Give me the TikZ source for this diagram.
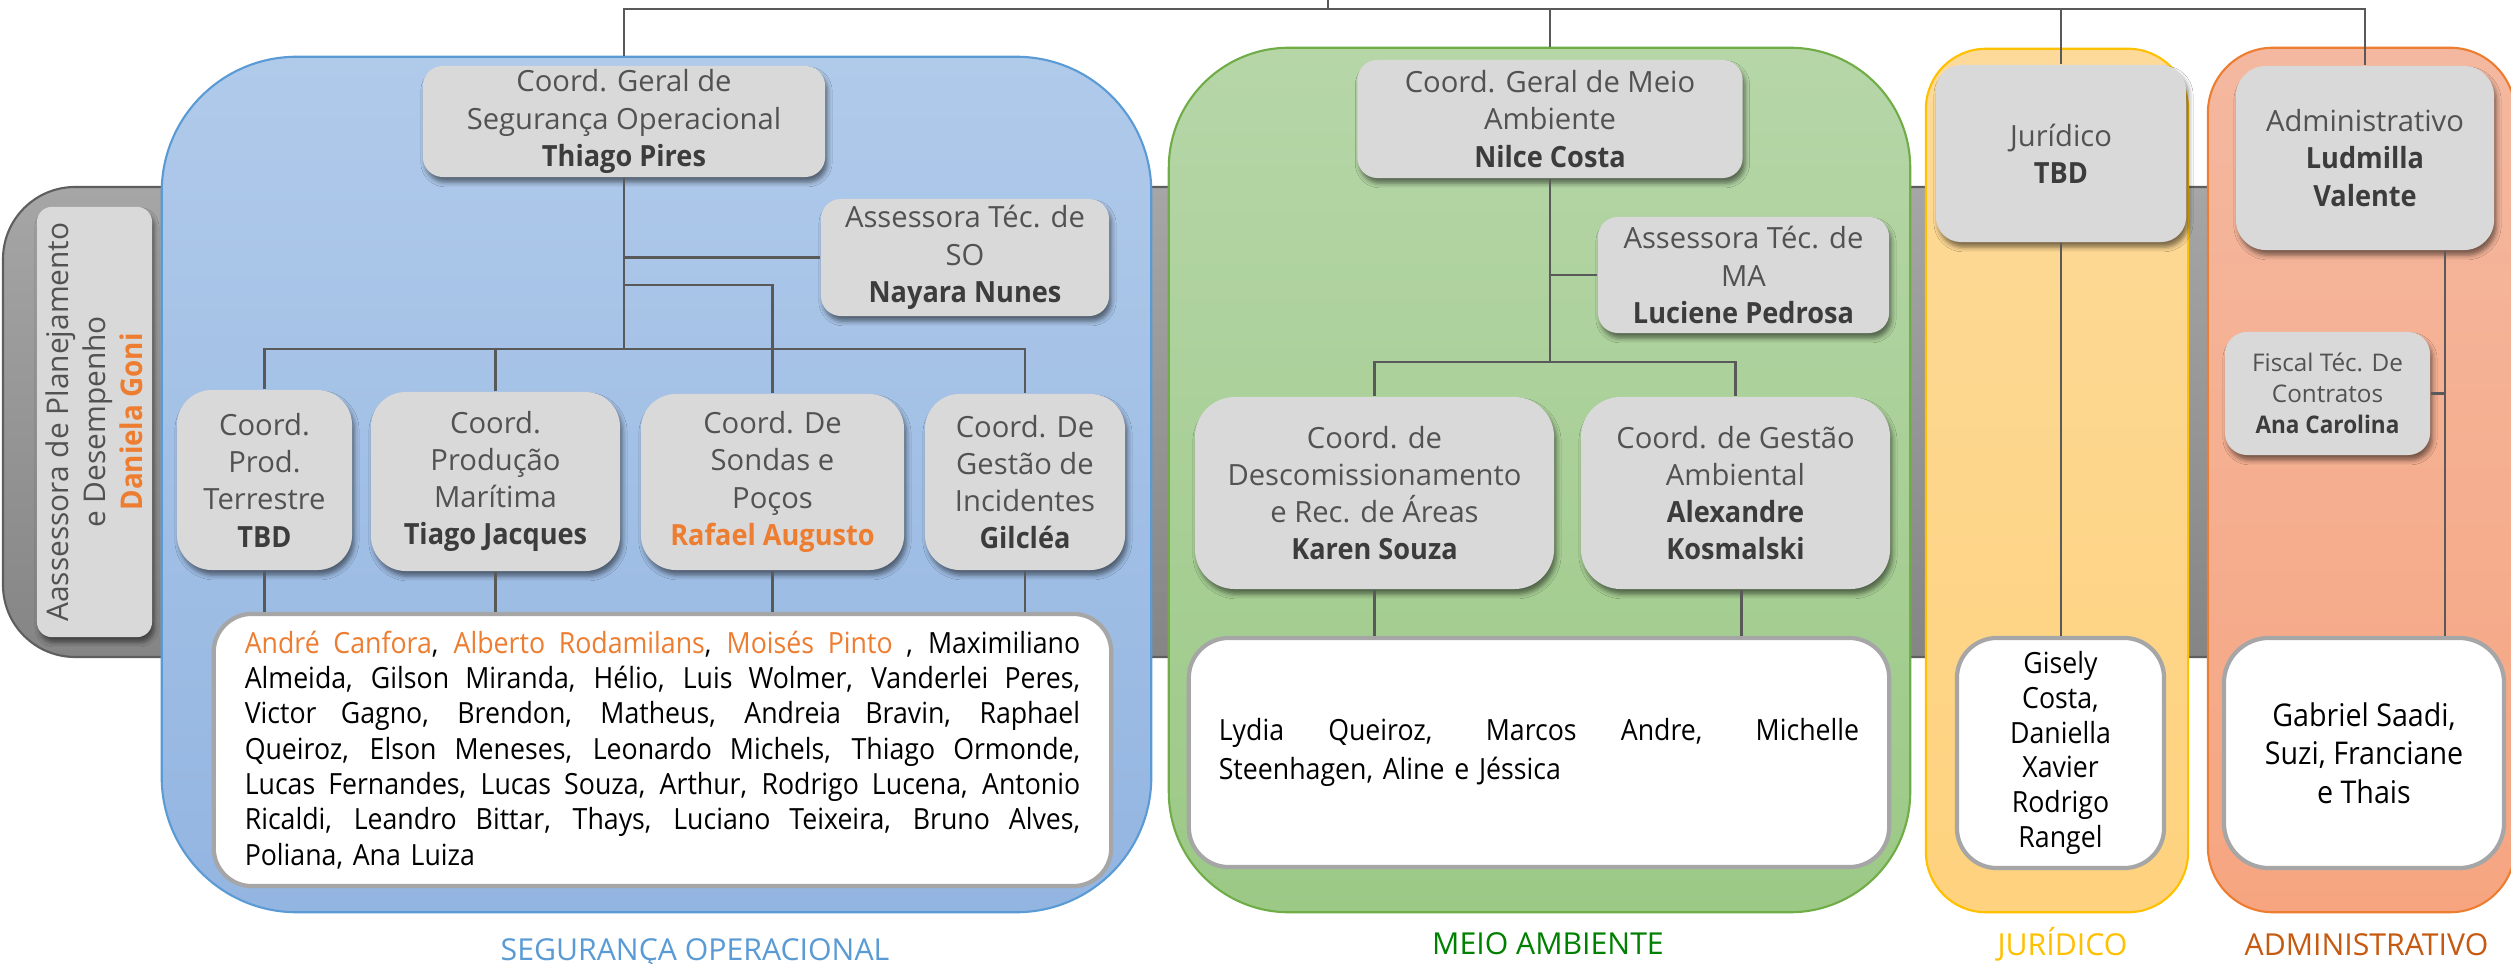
\documentclass[tikz,border=0pt]{standalone}
\usepackage{fontspec}
\setmainfont{Open Sans}[BoldFeatures={FakeStretch=0.93}]
\newfontfamily\listfont{Open Sans}[FakeStretch=0.915]
\usetikzlibrary{shadows.blur,calc}
\definecolor{graybox}{HTML}{D9D9D9}
\definecolor{titlecol}{HTML}{525252}
\definecolor{namecol}{HTML}{3C3C3C}
\definecolor{orgtxt}{HTML}{ED7D31}
\definecolor{conncol}{HTML}{595959}
\definecolor{bandtop}{HTML}{A6A6A6}
\definecolor{bandbot}{HTML}{858585}
\definecolor{bandline}{HTML}{5E5E5E}
\definecolor{sotop}{HTML}{B0CAEA}
\definecolor{sobot}{HTML}{93B5E1}
\definecolor{soline}{HTML}{5B9BD5}
\definecolor{matop}{HTML}{B6D6A8}
\definecolor{mabot}{HTML}{9CC986}
\definecolor{maline}{HTML}{70AD47}
\definecolor{jutop}{HTML}{FDDA99}
\definecolor{jubot}{HTML}{FED27E}
\definecolor{juline}{HTML}{FFC000}
\definecolor{adtop}{HTML}{F4B8A0}
\definecolor{adbot}{HTML}{F6A580}
\definecolor{adline}{HTML}{ED7D31}
\definecolor{solab}{HTML}{5B9BD5}
\definecolor{malab}{HTML}{008000}
\definecolor{julab}{HTML}{FFC000}
\definecolor{adlab}{HTML}{C55A11}
\definecolor{wborder}{HTML}{A6A6A6}
\newcommand\nmx[1]{{\bfseries\color{namecol}#1}}
\newcommand\orx[1]{{\color{orgtxt}#1}}
\newcommand\jline[1]{\makebox[\linewidth][s]{\spaceskip=0.26em plus 3em minus 0.05em\relax #1}}
\begin{document}
\begin{tikzpicture}[x=0.01cm,y=-0.01cm,
  conn/.style={draw=conncol, line width=0.6pt},
  gbox/.style={fill=graybox, align=center, inner sep=0pt, text=titlecol,
    font=\fontsize{8.3}{10.6}\selectfont,
    blur shadow={shadow xshift=0.7pt,shadow yshift=-1.5pt,shadow blur radius=1.3pt,shadow opacity=50}},
  wbox/.style={draw=wborder, line width=1.2pt, fill=white, inner sep=0pt, text=black},
  panel/.style={line width=0.6pt, inner sep=0pt},
  lab/.style={anchor=base, font=\fontsize{8.6}{10}\selectfont}
]
\useasboundingbox (0,0) rectangle (2511,964);
\fill[white] (0,0) rectangle (2511,964);
\begin{scope}
\clip (0,0) rectangle (2511,964);
% ---------- background band and panels ----------
\path[draw=bandline, line width=0.6pt, top color=bandtop, bottom color=bandbot, rounded corners=0.72cm]
  (2540,187) -- (3,187) -- (3,657) -- (2540,657) -- cycle;
\node[panel, draw=soline, top color=sotop, bottom color=sobot, rounded corners=1.35cm,
  minimum width=9.89cm, minimum height=8.55cm] (sopan) at (656.5,484.5) {};
\node[panel, draw=maline, top color=matop, bottom color=mabot, rounded corners=1.2cm,
  minimum width=7.41cm, minimum height=8.64cm] (mapan) at (1539.5,480) {};
\node[panel, draw=juline, top color=jutop, bottom color=jubot, rounded corners=0.6cm,
  minimum width=2.62cm, minimum height=8.63cm] (jupan) at (2057,480.5) {};
\node[panel, draw=adline, top color=adtop, bottom color=adbot, rounded corners=0.65cm,
  minimum width=3.07cm, minimum height=8.64cm] (adpan) at (2361.5,480) {};
\end{scope}

% ---------- left box ----------
\node[gbox, rounded corners=0.15cm, minimum width=1.15cm, minimum height=4.30cm]
  (plan) at (94.5,422) {};
\node[rotate=90, align=center, inner sep=0pt, text=titlecol,
  font=\fontsize{8.5}{10.6}\selectfont]
  (plantext) at (plan.center) {Aassessora de Planejamento\\e Desempenho\\{\bfseries\color{orgtxt}Daniela Goni}};

% ---------- Seguranca Operacional ----------
\node[gbox, rounded corners=0.2cm, minimum width=4.02cm, minimum height=1.11cm]
  (sogen) at (624,121.5) {Coord. Geral de\\Segurança Operacional\\\nmx{Thiago Pires}};
\node[gbox, rounded corners=0.2cm, minimum width=2.88cm, minimum height=1.17cm]
  (soass) at (965,257.5) {Assessora Téc. de\\SO\\\nmx{Nayara Nunes}};
\node[gbox, rounded corners=0.35cm, minimum width=1.75cm, minimum height=1.80cm]
  (terr) at (264.5,480) {Coord.\\Prod.\\Terrestre\\\nmx{TBD}};
\node[gbox, rounded corners=0.35cm, minimum width=2.49cm, minimum height=1.79cm]
  (mar) at (495.5,481.5) {Coord.\\Produção\\Marítima\\\nmx{Tiago Jacques}};
\node[gbox, rounded corners=0.35cm, minimum width=2.63cm, minimum height=1.76cm]
  (son) at (772.5,482) {Coord. De\\Sondas e\\Poços\\{\bfseries\color{orgtxt}Rafael Augusto}};
\node[gbox, rounded corners=0.35cm, minimum width=2.00cm, minimum height=1.76cm]
  (inc) at (1025,482) {Coord. De\\Gestão de\\Incidentes\\\nmx{Gilcléa}};
\node[wbox, rounded corners=0.38cm, minimum width=8.97cm, minimum height=2.72cm,
  text width=8.35cm, align=left, font=\listfont\fontsize{8.3}{10.05}\selectfont]
  (solist) at (662.5,750) {%
\jline{\orx{André Canfora}, \orx{Alberto Rodamilans}, \orx{Moisés Pinto} , Maximiliano}\\
\jline{Almeida, Gilson Miranda, Hélio, Luis Wolmer, Vanderlei Peres,}\\
\jline{Victor Gagno, Brendon, Matheus, Andreia Bravin, Raphael}\\
\jline{Queiroz, Elson Meneses, Leonardo Michels, Thiago Ormonde,}\\
\jline{Lucas Fernandes, Lucas Souza, Arthur, Rodrigo Lucena, Antonio}\\
\jline{Ricaldi, Leandro Bittar, Thays, Luciano Teixeira, Bruno Alves,}\\
Poliana, Ana Luiza};

% ---------- Meio Ambiente ----------
\node[gbox, rounded corners=0.2cm, minimum width=3.85cm, minimum height=1.18cm]
  (mageral) at (1550,119) {Coord. Geral de Meio\\Ambiente\\\nmx{Nilce Costa}};
\node[gbox, rounded corners=0.2cm, minimum width=2.91cm, minimum height=1.16cm]
  (maass) at (1743.5,275) {Assessora Téc. de\\MA\\\nmx{Luciene Pedrosa}};
\node[gbox, rounded corners=0.4cm, minimum width=3.59cm, minimum height=1.92cm]
  (karen) at (1374.5,493) {Coord. de\\Descomissionamento\\e Rec. de Áreas\\\nmx{Karen Souza}};
\node[gbox, rounded corners=0.4cm, minimum width=3.09cm, minimum height=1.92cm]
  (alex) at (1735.5,493) {Coord. de Gestão\\Ambiental\\\nmx{Alexandre}\\\nmx{Kosmalski}};
\node[wbox, rounded corners=0.4cm, minimum width=7.00cm, minimum height=2.29cm,
  text width=6.40cm, align=left, font=\listfont\fontsize{8.3}{10.9}\selectfont]
  (malist) at (1539,752.5) {%
\jline{Lydia Queiroz, Marcos Andre, Michelle}\\
Steenhagen, Aline e Jéssica};

% ---------- Juridico ----------
\node[gbox, rounded corners=0.25cm, minimum width=2.50cm, minimum height=1.77cm]
  (jur) at (2061,153.5) {Jurídico\\\nmx{TBD}};
\node[wbox, rounded corners=0.4cm, minimum width=2.07cm, minimum height=2.30cm,
  align=center, font=\listfont\fontsize{8.3}{9.85}\selectfont]
  (jurlist) at (2060.5,753) {Gisely\\Costa,\\Daniella\\Xavier\\Rodrigo\\Rangel};

% ---------- Administrativo ----------
\node[gbox, rounded corners=0.3cm, minimum width=2.58cm, minimum height=1.84cm]
  (adm) at (2365,158) {Administrativo\\\nmx{Ludmilla}\\\nmx{Valente}};
\node[gbox, rounded corners=0.22cm, minimum width=2.05cm, minimum height=1.23cm,
  font=\fontsize{6.9}{8.9}\selectfont]
  (fisc) at (2327.5,393.5) {Fiscal Téc. De\\Contratos\\\nmx{Ana Carolina}};
\node[wbox, rounded corners=0.45cm, minimum width=2.80cm, minimum height=2.30cm,
  align=center, font=\listfont\fontsize{8.9}{10.9}\selectfont]
  (admlist) at (2364,753) {Gabriel Saadi,\\Suzi, Franciane\\e Thais};

% ---------- connectors ----------
\coordinate (root) at (1328,0);
\coordinate (bus) at (1328,9);
\coordinate (sobus) at (624,349);
\coordinate (sotap) at (624,285);
\coordinate (mabus) at (1550,362);
\coordinate (admdrop) at ([xshift=0.8cm]adm.south);
\draw[conn] (root) -- (bus);
\draw[conn] (sogen.north |- sopan.north) |- (bus) -| (adm.north);
\draw[conn] (bus) -| (mageral.north |- mapan.north);
\draw[conn] (bus) -| (jur.north);
% SO
\draw[conn] (sogen.south) -- (sobus);
\draw[conn] (sogen.south |- soass.west) -- (soass.west);
\draw[conn] (sotap) -| (son.north);
\draw[conn] (terr.north) |- (sobus) -| (inc.north);
\draw[conn] (mar.north) -- (mar.north |- sobus);
\foreach \b in {terr,mar,son,inc}
  \draw[conn] (\b.south) -- (\b.south |- solist.north);
% MA
\draw[conn] (mageral.south) -- (mabus);
\draw[conn] (mageral.south |- maass.west) -- (maass.west);
\draw[conn] (karen.north) |- (mabus) -| (alex.north);
\draw[conn] (karen.south) -- (karen.south |- malist.north);
\draw[conn] ([xshift=0.06cm]alex.south) -- ([xshift=0.06cm]alex.south |- malist.north);
% Juridico
\draw[conn] (jur.south) -- (jur.south |- jurlist.north);
% Admin
\draw[conn] (admdrop) -- (admdrop |- admlist.north);
\draw[conn] (fisc.east) -- (fisc.east -| admdrop);

% ---------- labels ----------
\node[lab, text=solab] (lbso) at (695,960) {SEGURANÇA OPERACIONAL};
\node[lab, text=malab] (lbma) at (1548,954) {MEIO AMBIENTE};
\node[lab, text=julab] (lbju) at (2062.5,955) {JURÍDICO};
\node[lab, text=adlab] (lbad) at (2366.5,955) {ADMINISTRATIVO};
\end{tikzpicture}
\end{document}
